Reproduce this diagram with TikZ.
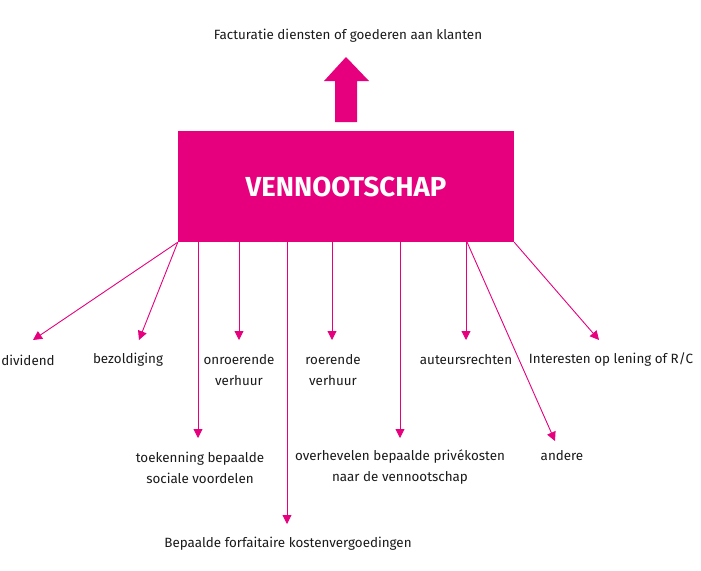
\documentclass[tikz,border=0pt]{standalone}
\usepackage{fontspec}
\setmainfont{Fira Sans}
\usetikzlibrary{arrows.meta,calc}
\definecolor{mag}{HTML}{E6007E}
\definecolor{txt}{HTML}{1A1A1A}
\tikzset{
  lbl/.style={align=center,text=txt,inner sep=1pt,font=\fontsize{13.4}{21}\selectfont},
  arr/.style={draw=mag,line width=0.9pt,-{Triangle[length=9pt,width=9pt]}},
}
\begin{document}
\begin{tikzpicture}[x=1pt,y=-1pt]
\useasboundingbox (0,0) rectangle (701,570);
% main box
\node[fill=mag,minimum width=336pt,minimum height=111pt,inner sep=0pt,
  text=white,font=\fontsize{27.5}{30}\selectfont\bfseries] (vn) at (346,186.5) {VENNOOTSCHAP};
% block arrow up
\fill[mag] (335,122) -- (357,122) -- (357,81) -- (369,81) -- (346,57) -- (324,81) -- (335,81) -- cycle;
\node[lbl] (fact) at (348,36) {Facturatie diensten of goederen aan klanten};
% labels
\node[lbl] (div) at (28,360) {dividend};
\node[lbl] (bez) at (128,360) {bezoldiging};
\node[lbl] (onr) at (239,370.5) {onroerende\\verhuur};
\node[lbl] (roe) at (333,370.5) {roerende\\verhuur};
\node[lbl] (aut) at (466,360) {auteursrechten};
\node[lbl] (int) at (611,360) {Interesten op lening of R/C};
\node[lbl] (toe) at (200,467.5) {toekenning bepaalde\\sociale voordelen};
\node[lbl] (ove) at (400,467.5) {overhevelen bepaalde privékosten\\naar de vennootschap};
\node[lbl] (and) at (562,456) {andere};
\node[lbl] (bep) at (288,544) {Bepaalde forfaitaire kostenvergoedingen};
% arrow tips
\coordinate (tdiv) at (33,340);
\coordinate (tbez) at (139,340);
\coordinate (ttoe) at (198,438);
\coordinate (tonr) at (239,340);
\coordinate (tbep) at (287,524);
\coordinate (troe) at (332,340);
\coordinate (tove) at (400,438);
\coordinate (taut) at (466,340);
\coordinate (tand) at (555,441);
\coordinate (tint) at (599,340);
\coordinate (sand) at (467,242);
% arrows
\draw[arr] (vn.south west) -- (tdiv);
\draw[arr] (vn.south west) -- (tbez);
\draw[arr] (vn.south west -| ttoe) -- (ttoe);
\draw[arr] (vn.south west -| tonr) -- (tonr);
\draw[arr] (vn.south west -| tbep) -- (tbep);
\draw[arr] (vn.south west -| troe) -- (troe);
\draw[arr] (vn.south west -| tove) -- (tove);
\draw[arr] (vn.south west -| taut) -- (taut);
\draw[arr] (sand) -- (tand);
\draw[arr] (vn.south east) -- (tint);
\end{tikzpicture}
\end{document}
